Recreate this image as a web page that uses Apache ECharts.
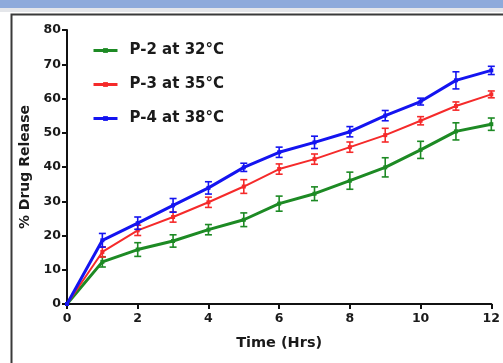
<!DOCTYPE html>
<html>
<head>
<meta charset="utf-8">
<script src="https://cdn.jsdelivr.net/npm/echarts@6/dist/echarts.min.js"></script>
<style>
  html, body { margin: 0; padding: 0; background: #fff; }
  #chart { width: 503px; height: 363px; }
</style>
</head>
<body>
<div id="chart"></div>
<script>
// time points (hours)
var times = [0, 1, 2, 3, 4, 5, 6, 7, 8, 9, 10, 11, 12];

// mean % release
var p2Mean = [0, 12.3, 15.9, 18.4, 21.7, 24.6, 29.3, 32.2, 36.0, 39.9, 45.0, 50.4, 52.5];
var p3Mean = [0, 15.2, 21.5, 25.4, 29.7, 34.3, 39.4, 42.3, 45.8, 49.3, 53.5, 57.8, 61.2];
var p4Mean = [0, 18.6, 23.6, 28.8, 33.9, 39.9, 44.3, 47.2, 50.3, 55.0, 59.1, 65.3, 68.2];

// +/- error (SD)
var p2Err = [0, 1.5, 2.0, 1.8, 1.5, 2.0, 2.2, 2.0, 2.5, 2.8, 2.5, 2.5, 1.8];
var p3Err = [0, 1.5, 1.5, 1.5, 1.5, 2.0, 1.5, 1.5, 1.5, 2.0, 1.2, 1.2, 1.0];
var p4Err = [0, 2.0, 1.8, 2.0, 1.8, 1.2, 1.5, 1.8, 1.5, 1.5, 1.0, 2.5, 1.2];

var names = ['P-2 at 32°C', 'P-3 at 35°C', 'P-4 at 38°C'];
var yTicks = [0, 10, 20, 30, 40, 50, 60, 70, 80];
var xTicks = [0, 2, 4, 6, 8, 10, 12];

var colors = ['#1d8a24', '#f52a2a', '#1414f0'];
var widths = [3, 2, 3];

function pairs(mean) {
    return times.map(function (t, i) { return [t, mean[i]]; });
}
function bars(mean, err) {
    var out = [];
    times.forEach(function (t, i) {
        if (err[i] > 0) out.push([t, mean[i] - err[i], mean[i] + err[i]]);
    });
    return out;
}

// 误差线
function errRender(color) {
    return function (params, api) {
        var x = api.value(0);
        var lo = api.coord([x, api.value(1)]);
        var hi = api.coord([x, api.value(2)]);
        var cap = 3.5;
        var st = { stroke: color, lineWidth: 1.6 };
        return {
            type: 'group',
            children: [
                { type: 'line', shape: { x1: lo[0], y1: lo[1], x2: hi[0], y2: hi[1] }, style: st },
                { type: 'line', shape: { x1: lo[0] - cap, y1: lo[1], x2: lo[0] + cap, y2: lo[1] }, style: st },
                { type: 'line', shape: { x1: hi[0] - cap, y1: hi[1], x2: hi[0] + cap, y2: hi[1] }, style: st }
            ]
        };
    };
}

var means = [p2Mean, p3Mean, p4Mean];
var errs = [p2Err, p3Err, p4Err];

var series = [];
names.forEach(function (n, k) {
    series.push({
        name: n,
        type: 'line',
        data: pairs(means[k]),
        symbol: 'rect',
        symbolSize: 4,
        showSymbol: true,
        color: colors[k],
        lineStyle: { width: widths[k], color: colors[k] },
        itemStyle: { color: colors[k] },
        z: 3 + k,
        animation: false
    });
    series.push({
        name: n,
        type: 'custom',
        data: bars(means[k], errs[k]),
        renderItem: errRender(colors[k]),
        encode: { x: 0, y: [1, 2] },
        z: 3 + k,
        silent: true,
        animation: false
    });
});

var font = 'DejaVu Sans';
var axisLine = { show: true, lineStyle: { color: '#111', width: 2 } };
var labelFont = { color: '#1a1a1a', fontWeight: 'bold', fontSize: 12.5, fontFamily: font };

var option = {
    animation: false,
    graphic: [
        { type: 'rect', left: 0, top: 0, shape: { width: 503, height: 8 }, style: { fill: '#8eaadb' } },
        { type: 'rect', left: 0, top: 8, shape: { width: 503, height: 4 }, style: { fill: '#e4e6ea' } },
        { type: 'rect', left: 9, top: 12, shape: { x: 0, y: 0, width: 620, height: 420 }, style: { fill: 'none', stroke: '#3a3a3a', lineWidth: 2 } }
    ],
    legend: {
        orient: 'vertical',
        left: 92,
        top: 43,
        padding: 0,
        itemWidth: 24,
        itemHeight: 6,
        itemGap: 19,
        data: names,
        lineStyle: { width: 3 },
        textStyle: { color: '#1a1a1a', fontWeight: 'bold', fontSize: 15, fontFamily: font, padding: [0, 0, 0, 7] }
    },
    grid: { left: 67, right: 9, top: 30, bottom: 59 },
    xAxis: {
        type: 'value',
        min: 0,
        max: 12,
        interval: 2,
        name: 'Time (Hrs)',
        nameLocation: 'middle',
        nameGap: 32,
        nameTextStyle: { color: '#1a1a1a', fontWeight: 'bold', fontSize: 14.5, fontFamily: font },
        axisLine: axisLine,
        axisTick: { show: true, length: 5, lineStyle: { color: '#111', width: 2 } },
        axisLabel: Object.assign({ margin: 8, formatter: function (v) { return xTicks.indexOf(v) >= 0 ? v : ''; } }, labelFont),
        splitLine: { show: false }
    },
    yAxis: {
        type: 'value',
        min: 0,
        max: 80,
        interval: 10,
        name: '% Drug Release',
        nameLocation: 'middle',
        nameGap: 35,
        nameTextStyle: { color: '#1a1a1a', fontWeight: 'bold', fontSize: 14, fontFamily: font },
        axisLine: axisLine,
        axisTick: { show: true, length: 5, lineStyle: { color: '#111', width: 2 } },
        axisLabel: Object.assign({ margin: 6, formatter: function (v) { return yTicks.indexOf(v) >= 0 ? v : ''; } }, labelFont),
        splitLine: { show: false }
    },
    series: series
};

var myechart = echarts.init(document.getElementById('chart'));
myechart.setOption(option);
</script>
</body>
</html>
